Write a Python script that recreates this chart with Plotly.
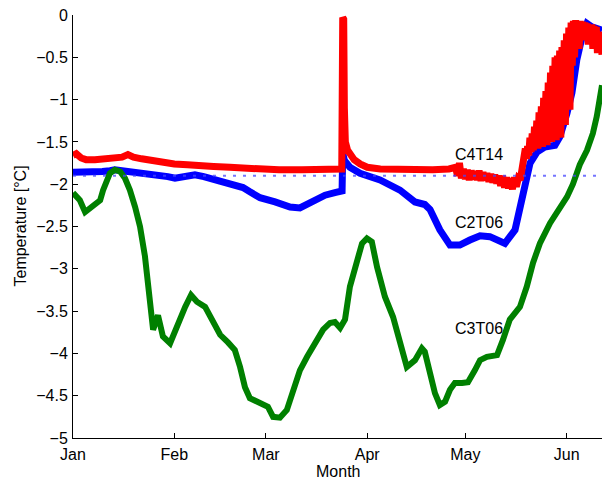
import pandas as pd
import plotly.graph_objects as go

# Days since 1 January and water temperature (°C) for each sensor
c4t14_days = [0, 1, 2.5, 4, 6.7, 9, 12, 15, 16.8, 18.5, 21, 24, 26.6, 31, 35, 38.8, 43, 48,
              53.5, 58, 63, 70, 76, 82.2, 82.5, 82.8, 83.0, 83.3, 84, 84.7, 86, 87.8, 90, 94,
              100, 106, 110, 115,
              117.0, 117.6, 118.2, 118.8, 119.4, 120.0, 120.6, 121.2, 121.8, 122.4, 123.0,
              123.6, 124.2, 124.8, 125.4, 126.0, 126.6, 127.2, 127.8, 128.4, 129.0, 129.6,
              130.2, 130.8, 131.4, 132.0, 132.6, 133.2, 133.8, 134.4, 135.0, 135.6, 136.2,
              136.8, 137.3, 137.7,
              138.0, 138.35, 138.7, 139.05, 139.4, 139.75, 140.1, 140.45, 140.8, 141.15,
              141.5, 141.85, 142.2, 142.55, 142.9, 143.25, 143.6, 143.95, 144.3, 144.65,
              145.0, 145.35, 145.7, 146.05, 146.4, 146.75, 147.1, 147.45, 147.8, 148.15,
              148.5, 148.85, 149.2, 149.55, 149.9, 150.25, 150.6, 150.95, 151.3, 151.65,
              152.0, 152.35, 152.7, 153.05, 153.4, 153.75, 154.1, 154.45, 154.8, 155.15,
              155.5, 155.85, 156.2, 156.55, 156.9, 157.25, 157.6, 157.95, 158.3, 158.65,
              159.0, 159.35, 159.7, 160.05, 160.4, 160.75, 161.1, 161.45, 161.8]
c4t14_temp = [-1.66, -1.64, -1.69, -1.71, -1.71, -1.70, -1.70, -1.68, -1.65, -1.68, -1.70,
              -1.72, -1.74, -1.76, -1.77, -1.77, -1.79, -1.80, -1.81, -1.83, -1.83, -1.83,
              -1.82, -1.82, -0.03, -0.05, -1.10, -1.50, -1.60, -1.65, -1.71, -1.76, -1.80,
              -1.82, -1.83, -1.83, -1.83, -1.82,
              -1.80, -1.90, -1.75, -1.93, -1.82, -1.94, -1.83, -1.95, -1.84, -1.94, -1.85,
              -1.95, -1.84, -1.96, -1.86, -1.95, -1.87, -1.97, -1.88, -1.98, -1.89, -1.99,
              -1.90, -2.02, -1.90, -2.04, -1.92, -2.05, -1.93, -2.06, -1.92, -2.03, -1.93,
              -1.95, -1.82, -1.75,
              -1.72, -1.58, -1.70, -1.55, -1.66, -1.45, -1.62, -1.40, -1.60, -1.32,
              -1.55, -1.25, -1.58, -1.15, -1.50, -1.08, -1.56, -0.98, -1.40, -0.90,
              -1.54, -0.80, -1.30, -0.68, -1.50, -0.60, -1.20, -0.50, -1.48, -0.48,
              -1.10, -0.42, -1.45, -0.38, -0.95, -0.30, -1.30, -0.22, -0.80, -0.15,
              -1.12, -0.09, -0.60, -0.07, -0.50, -0.06, -0.35, -0.08, -0.40, -0.07,
              -0.28, -0.08, -0.30, -0.09, -0.22, -0.10, -0.35, -0.12, -0.25, -0.11,
              -0.40, -0.13, -0.30, -0.14, -0.45, -0.20, -0.35, -0.25, -0.47]

c2t06_days = [0, 2, 4, 6.7, 9, 11.3, 12.8, 15, 17.4, 19, 22, 26.6, 29, 31.2, 34, 37.3, 40,
              43.4, 48, 52, 54.1, 57.2, 61.8, 66.4, 69.4, 72.5, 77.1, 80.1, 82.3, 82.5, 83,
              84.7, 87.8, 93.9, 100, 104.6, 106.1, 107.6, 109.2, 112.2, 115.3, 118.3, 121.4,
              124.5, 127.5, 130.6, 132.1, 135.2, 137.3, 139.8, 141.9, 144.3, 147.4, 148.9,
              151.1, 152.6, 154.1, 155.7, 157.2, 158.7, 161.8]
c2t06_temp = [-1.86, -1.86, -1.87, -1.87, -1.85, -1.84, -1.83, -1.84, -1.85, -1.86, -1.88,
              -1.89, -1.91, -1.93, -1.91, -1.89, -1.91, -1.95, -1.99, -2.04, -2.09, -2.16,
              -2.21, -2.27, -2.28, -2.21, -2.13, -2.10, -2.08, -1.63, -1.72, -1.80, -1.87,
              -1.95, -2.07, -2.21, -2.22, -2.24, -2.30, -2.54, -2.72, -2.72, -2.66, -2.61,
              -2.62, -2.68, -2.70, -2.54, -2.19, -1.75, -1.62, -1.56, -1.54, -1.44, -1.16,
              -0.92, -0.53, -0.26, -0.10, -0.14, -0.18]

c3t06_days = [0, 2.1, 3.7, 5.2, 6.7, 8.3, 9.2, 11.3, 12.8, 14.4, 15.9, 17.4, 19.0, 20.5,
              22.0, 23.2, 24.5, 26.0, 27.5, 29.7, 32.1, 34.3, 36.1, 37.9, 40.4, 42.8, 45.0,
              47.4, 49.5, 51.1, 52.6, 54.1, 56.6, 58.7, 59.6, 61.2, 63.3, 65.4, 67.3, 69.4,
              71.6, 74.0, 76.5, 78.6, 80.1, 81.7, 83.2, 84.7, 86.2, 88.4, 89.9, 91.4, 93.0,
              95.4, 97.9, 100.0, 102.1, 104.6, 106.7, 107.6, 109.2, 110.7, 112.2, 113.8,
              115.3, 116.8, 119.0, 120.8, 122.9, 124.5, 126.6, 129.7, 131.5, 133.6, 136.7,
              138.8, 140.7, 142.8, 145.9, 148.9, 151.1, 152.9, 155.0, 157.2, 159.0, 160.2,
              161.2, 161.8]
c3t06_temp = [-2.10, -2.19, -2.33, -2.28, -2.22, -2.19, -2.07, -1.87, -1.83, -1.85, -1.93,
              -2.07, -2.27, -2.50, -2.85, -3.25, -3.72, -3.55, -3.80, -3.88, -3.64, -3.45,
              -3.31, -3.39, -3.45, -3.63, -3.78, -3.87, -3.96, -4.16, -4.40, -4.53, -4.57,
              -4.61, -4.63, -4.75, -4.76, -4.67, -4.43, -4.20, -4.04, -3.88, -3.72, -3.64,
              -3.63, -3.70, -3.60, -3.21, -2.98, -2.70, -2.64, -2.68, -2.98, -3.33, -3.57,
              -3.84, -4.16, -4.08, -3.94, -3.98, -4.23, -4.47, -4.61, -4.57, -4.43, -4.35,
              -4.35, -4.34, -4.20, -4.08, -4.04, -4.02, -3.84, -3.60, -3.45, -3.21, -2.93,
              -2.70, -2.46, -2.27, -2.15, -2.00, -1.77, -1.60, -1.40, -1.20, -1.00, -0.83]

freezing_point = -1.9
x_end_day = 161.8

month_names = ["Jan", "Feb", "Mar", "Apr", "May", "Jun"]
y_ticks = [0, -0.5, -1, -1.5, -2, -2.5, -3, -3.5, -4, -4.5, -5]
y_tick_text = ["0", "\u22120.5", "\u22121", "\u22121.5", "\u22122", "\u22122.5", "\u22123",
               "\u22123.5", "\u22124", "\u22124.5", "\u22125"]

# Label text and the (day, temperature) point each label sits at
series_labels = ["C4T14", "C2T06", "C3T06"]
label_days = [124.3, 124.3, 124.3]
label_temps = [-1.65, -2.45, -3.71]

base = pd.Timestamp("2011-01-01")


def to_dates(days):
    return base + pd.to_timedelta(days, unit="D")


FONT = "Liberation Sans, Arial, Helvetica, sans-serif"
FS = 16

fig = go.Figure()
fig.add_trace(go.Scatter(x=to_dates(c2t06_days), y=c2t06_temp, mode="lines",
                         line=dict(color="#0000ff", width=7), name="C2T06"))
fig.add_trace(go.Scatter(x=to_dates(c3t06_days), y=c3t06_temp, mode="lines",
                         line=dict(color="#008000", width=6), name="C3T06"))
fig.add_trace(go.Scatter(x=to_dates(c4t14_days), y=c4t14_temp, mode="lines",
                         line=dict(color="#ff0000", width=7), name="C4T14"))
fig.add_trace(go.Scatter(x=to_dates([0, x_end_day]), y=[freezing_point, freezing_point],
                         mode="lines",
                         line=dict(color="rgba(70,70,255,0.75)", width=2, dash="3px,7px"),
                         name="freezing"))

for txt, d, t in zip(series_labels, label_days, label_temps):
    fig.add_annotation(x=to_dates([d])[0], y=t, text=txt, showarrow=False,
                       font=dict(family=FONT, size=FS, color="black"),
                       xanchor="center", yanchor="middle")

fig.add_annotation(xref="paper", yref="paper", x=0, y=0.5, xshift=-53,
                   xanchor="center", yanchor="middle",
                   text="Temperature [°C]", textangle=-90, showarrow=False,
                   font=dict(family=FONT, size=FS, color="black"))
fig.add_annotation(xref="paper", yref="paper", x=0.5, y=0, yshift=-33,
                   xanchor="center", yanchor="middle",
                   text="Month", showarrow=False,
                   font=dict(family=FONT, size=FS, color="black"))

month_dates = [pd.Timestamp(2011, m, 1) for m in range(1, 7)]

fig.update_layout(
    width=602, height=481,
    margin=dict(l=73, r=0, t=15, b=43),
    paper_bgcolor="white", plot_bgcolor="white",
    showlegend=False,
    font=dict(family=FONT, size=FS, color="black"),
)
fig.update_xaxes(
    type="date", range=[base, to_dates([x_end_day])[0]],
    tickvals=month_dates, ticktext=month_names,
    ticks="inside", ticklen=5, tickcolor="black",
    showline=True, linecolor="black", linewidth=1,
    showgrid=False, zeroline=False, ticklabelstandoff=2,
)
fig.update_yaxes(
    range=[-5, 0], tickvals=y_ticks, ticktext=y_tick_text,
    ticks="inside", ticklen=5, tickcolor="black",
    showline=True, linecolor="black", linewidth=1,
    showgrid=False, zeroline=False, ticklabelstandoff=1,
)

fig.write_html("out.html")
